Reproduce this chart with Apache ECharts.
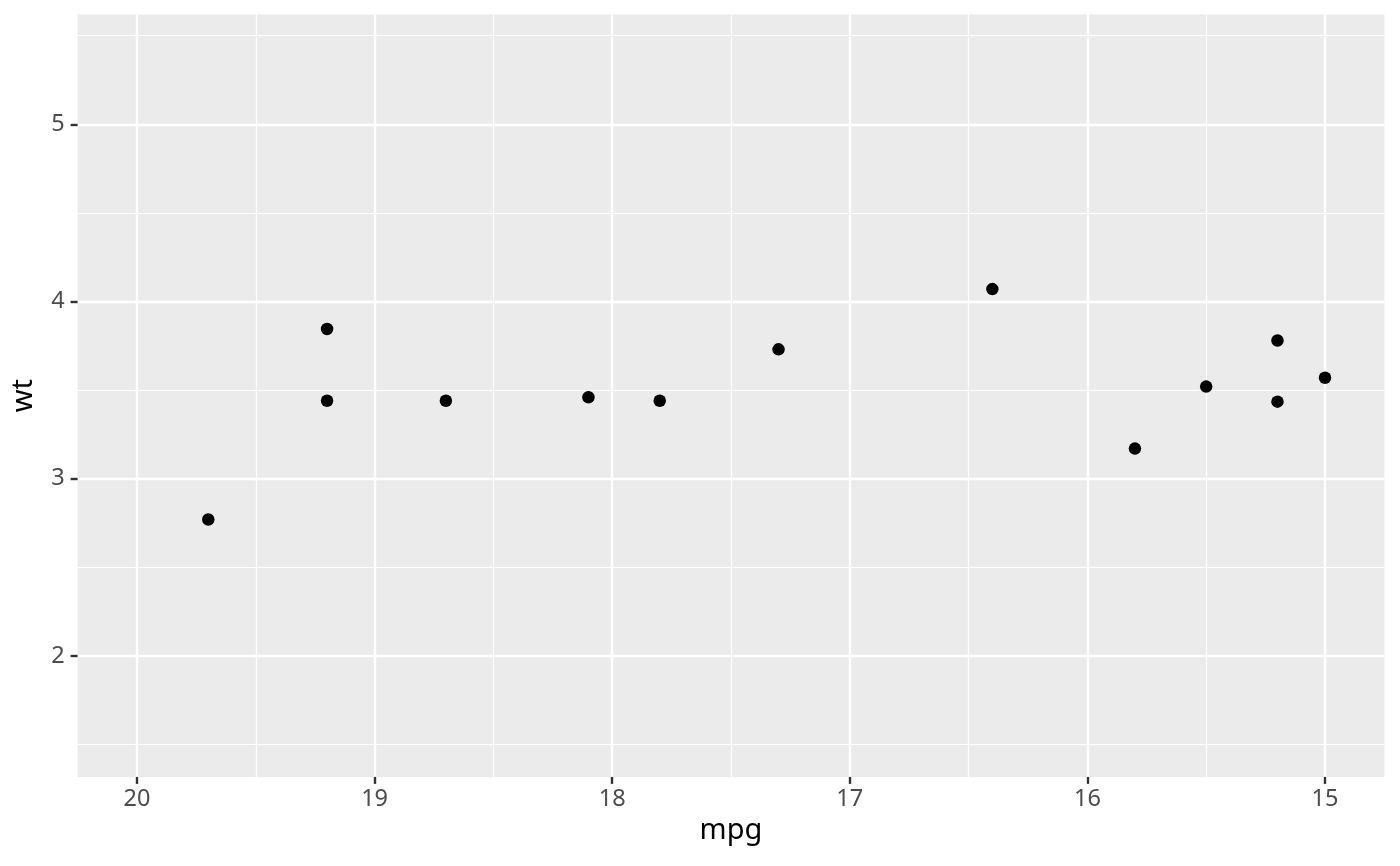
<!DOCTYPE html>
<html>
<head>
<meta charset="utf-8">
<script src="https://cdn.jsdelivr.net/npm/echarts@6/dist/echarts.min.js"></script>
<style>
html,body{margin:0;padding:0;background:#fff;}
#chart{width:1400px;height:866px;}
</style>
</head>
<body>
<div id="chart"></div>
<script>
// mtcars subset: mpg vs wt
const mpg = [18.7, 18.1, 19.2, 17.8, 16.4, 17.3, 15.2, 15.5, 15.2, 19.2, 15.8, 19.7, 15.0];
const wt  = [3.44, 3.46, 3.44, 3.44, 4.07, 3.73, 3.78, 3.52, 3.435, 3.845, 3.17, 2.77, 3.57];

const xMajor = [15, 16, 17, 18, 19, 20];
const xMinor = [15.5, 16.5, 17.5, 18.5, 19.5];
const yMajor = [2, 3, 4, 5];
const yMinor = [1.5, 2.5, 3.5, 4.5, 5.5];

const xLimits = [14.75, 20.25];
const yLimits = [1.3174, 5.6196];

const FONT = 'Noto Sans';
const points = mpg.map((v, i) => [v, wt[i]]);

const chart = echarts.init(document.getElementById('chart'), null, {renderer: 'canvas'});
chart.setOption({
  backgroundColor: '#ffffff',
  animation: false,
  grid: {
    left: 77.6, top: 14.5, width: 1306.8, height: 762.4,
    show: true, backgroundColor: '#EBEBEB', borderWidth: 0,
    containLabel: false
  },
  xAxis: [
    {
      type: 'value', inverse: true, min: xLimits[0], max: xLimits[1],
      position: 'bottom',
      name: 'mpg', nameLocation: 'middle', nameGap: 38.5,
      nameTextStyle: {fontFamily: FONT, fontSize: 29, color: '#000000'},
      axisLine: {show: false},
      axisTick: {show: true, customValues: xMajor, length: 7, lineStyle: {color: '#333333', width: 2.4}},
      axisLabel: {show: true, customValues: xMajor, margin: 10, fontFamily: FONT, fontSize: 23.5, color: '#4D4D4D',
        formatter: v => String(v)},
      splitLine: {show: true, lineStyle: {color: '#FFFFFF', width: 2.4}}
    },
    {
      type: 'value', inverse: true, min: xLimits[0], max: xLimits[1],
      position: 'top',
      axisLine: {show: false},
      axisTick: {show: false, customValues: xMinor},
      axisLabel: {show: false, customValues: xMinor},
      splitLine: {show: true, lineStyle: {color: '#FFFFFF', width: 1.2}}
    }
  ],
  yAxis: [
    {
      type: 'value', min: yLimits[0], max: yLimits[1],
      position: 'left',
      name: 'wt', nameLocation: 'middle', nameGap: 39,
      nameTextStyle: {fontFamily: FONT, fontSize: 29, color: '#000000'},
      axisLine: {show: false},
      axisTick: {show: true, customValues: yMajor, length: 7, lineStyle: {color: '#333333', width: 2.4}},
      axisLabel: {show: true, customValues: yMajor, margin: 13, fontFamily: FONT, fontSize: 23.5, color: '#4D4D4D',
        formatter: v => String(v)},
      splitLine: {show: true, lineStyle: {color: '#FFFFFF', width: 2.4}}
    },
    {
      type: 'value', min: yLimits[0], max: yLimits[1],
      position: 'right',
      axisLine: {show: false},
      axisTick: {show: false, customValues: yMinor},
      axisLabel: {show: false, customValues: yMinor},
      splitLine: {show: true, lineStyle: {color: '#FFFFFF', width: 1.2}}
    }
  ],
  series: [
    {
      type: 'scatter', xAxisIndex: 0, yAxisIndex: 0,
      data: points, symbol: 'circle', symbolSize: 12.5,
      itemStyle: {color: '#000000', opacity: 1}, z: 5, silent: true
    }
  ]
});
</script>
</body>
</html>
